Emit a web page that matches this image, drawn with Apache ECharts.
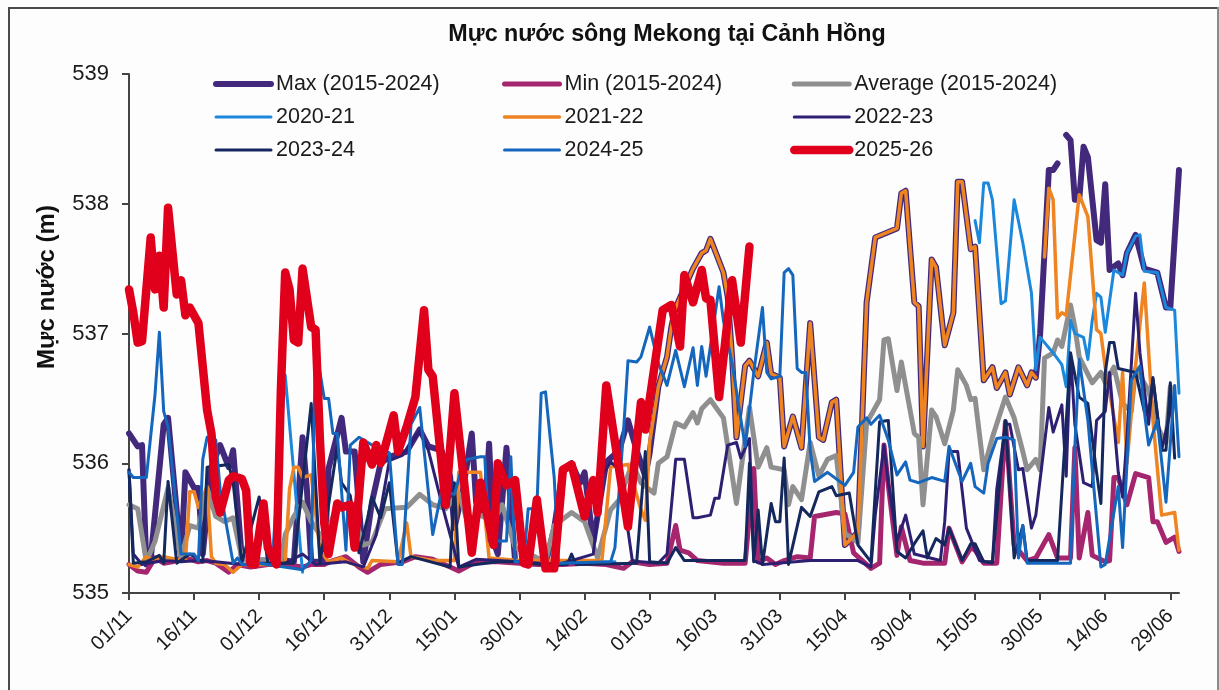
<!DOCTYPE html>
<html lang="vi">

<head>
  <meta charset="UTF-8">
  <title>Mực nước sông Mekong tại Cảnh Hồng</title>
  <style>
    html, body {
      margin: 0;
      background-color: #fdfdfe;
      overflow: hidden;
    }

    .frame {
      position: absolute;
      left: 8px;
      top: 7px;
      width: 1300px;
      height: 800px;
      border: 2px solid #4a4a4a;
    }

    .edge {
      position: absolute;
      left: 1217px;
      top: 7px;
      width: 2px;
      height: 683px;
      background-color: #8a8a8a;
    }

    #chart {
      position: absolute;
      left: 0;
      top: 0;
      width: 1219px;
      height: 690px;
    }
  </style>
</head>

<body>
  <div class="frame"></div>
  <div class="edge"></div>
  <div id="chart"></div>
  <script src="https://cdn.jsdelivr.net/npm/echarts@6/dist/echarts.min.js"></script>
  <script>
    const tickLabels = ['01/11', '16/11', '01/12', '16/12', '31/12', '15/01', '30/01', '14/02', '01/03',
      '16/03', '31/03', '15/04', '30/04', '15/05', '30/05', '14/06', '29/06']
    const dayCount = 243

    // [day since 01/11, water level in m]
    const maxLevel = [[0,536.23],[2,536.13],[3,536.14],[4,535.22],[5,535.26],[8,536.3],[9,536.35],[12,535.27],[13,535.93],[15,535.81],[16,535.81],[17,535.3],[19,535.97],[21,536.14],[23,535.97],[24,536.1],[26,535.27],[30,535.25],[36,535.25],[38,535.24],[40,536.2],[41,535.8],[42,535.24],[45,535.24],[46,535.96],[49,536.35],[50,536.09],[52,536.09],[54,535.24],[56,535.7],[58,536],[60,536.05],[64,536.09],[67,536.26],[69,536.13],[72,536.1],[74,535.9],[75,535.5],[77,535.8],[79,536.23],[80,535.7],[82,535.6],[83,536.15],[84,535.4],[85,535.3],[87,536.12],[89,535.24],[96,535.22],[98,535.5],[100,535.95],[102,536],[104,535.85],[105,535.93],[107,535.39],[110,536.01],[113,536.1],[115,536.33],[117,536.1],[119,535.9],[120,536.08],[122,536.59],[124,536.82],[125,537.05],[126,537.2],[128,537.35],[130,537.5],[132,537.62],[133,537.64],[134,537.73],[137,537.47],[138,537.28],[139,536.82],[140,536.2],[142,536.75],[143,536.79],[145,536.67],[147,536.93],[148,536.69],[150,536.66],[151,536.13],[153,536.36],[155,536.12],[157,537.08],[159,536.2],[160,536.18],[162,536.47],[163,536.49],[165,535.37],[168,535.47],[170,537.24],[172,537.74],[177,537.81],[178,538.08],[179,538.1],[181,537.24],[182,537.21],[183,536.13],[185,537.57],[186,537.51],[188,536.91],[190,537.16],[191,538.17],[192,538.17],[194,537.65],[195,537.67],[197,536.64],[199,536.74],[200,536.58],[202,536.7],[203,536.53],[205,536.74],[207,536.6],[208,536.7],[209,536.66],[210,537],[212,538.26],[213,538.26],[214,538.31],[215,null],[216,538.53],[217,538.49],[218,538.03],[219,538.03],[220,538.44],[221,538.36],[223,537.72],[224,537.7],[225,538.15],[226,537.49],[228,537.54],[229,537.45],[230,537.62],[232,537.76],[234,537.5],[237,537.47],[239,537.2],[240,537.2],[242,538.26]]
    const minLevel = [[0,535.22],[2,535.17],[4,535.16],[6,535.27],[8,535.23],[10,535.24],[12,535.27],[14,535.26],[16,535.24],[18,535.25],[20,535.23],[23,535.16],[25,535.22],[28,535.2],[32,535.22],[36,535.22],[40,535.2],[42,535.22],[45,535.22],[47,535.25],[50,535.28],[53,535.2],[55,535.16],[58,535.22],[63,535.24],[66,535.28],[70,535.26],[74,535.2],[76,535.17],[80,535.24],[85,535.24],[90,535.23],[95,535.22],[100,535.22],[105,535.23],[110,535.22],[114,535.19],[116,535.24],[120,535.22],[124,535.23],[126,535.52],[127,535.33],[129,535.31],[131,535.25],[137,535.23],[142,535.23],[144,535.96],[145,535.24],[147,535.27],[149,535.22],[151,535.25],[154,535.28],[157,535.27],[158,535.59],[163,535.62],[165,535.61],[167,535.31],[171,535.19],[173,535.23],[174,536.14],[175,535.83],[177,535.29],[178,535.51],[180,535.25],[183,535.23],[188,535.23],[189,535.5],[192,535.24],[194,535.35],[195,535.33],[197,535.23],[200,535.23],[202,536.32],[204,535.37],[207,535.25],[209,535.27],[212,535.45],[214,535.27],[217,535.27],[218,536.12],[219,535.27],[221,535.62],[222,535.29],[225,535.24],[226,535.25],[227,535.89],[228,535.89],[230,535.68],[232,535.92],[235,535.89],[236,535.55],[237,535.55],[239,535.39],[241,535.43],[242,535.32]]
    const avgLevel = [[0,535.68],[2,535.65],[4,535.24],[6,535.4],[9,535.81],[12,535.27],[14,535.52],[16,535.5],[18,535.81],[20,535.59],[22,535.55],[24,535.58],[26,535.27],[30,535.25],[35,535.25],[36,535.45],[38,535.59],[40,535.7],[42,535.55],[45,535.4],[48,535.68],[51,535.68],[54,535.37],[56,535.39],[59,535.65],[64,535.66],[67,535.76],[70,535.68],[73,535.65],[76,535.77],[78,535.55],[81,535.6],[84,535.55],[86,535.68],[89,535.35],[96,535.24],[98,535.52],[102,535.62],[105,535.55],[108,535.27],[111,535.64],[113,535.72],[116,536],[118,535.85],[121,535.77],[122,536],[124,536.05],[126,536.31],[128,536.28],[130,536.39],[131,536.31],[132,536.42],[134,536.49],[137,536.35],[140,535.69],[143,536.43],[145,535.97],[147,536.12],[148,535.97],[151,535.95],[152,535.68],[153,535.82],[155,535.72],[157,536.16],[159,535.9],[161,536.03],[163,536.06],[165,535.46],[168,535.39],[170,536.31],[173,536.49],[174,536.95],[175,536.96],[177,536.56],[178,536.78],[181,536.23],[182,536.2],[183,535.68],[185,536.41],[186,536.36],[188,536.15],[190,536.41],[191,536.72],[193,536.6],[194,536.49],[195,536.5],[197,535.95],[199,536.2],[202,536.51],[204,536.35],[206,536.09],[207,535.95],[209,536.03],[210,535.95],[211,536.81],[213,536.85],[214,536.95],[215,536.9],[217,537.22],[218,537.05],[219,536.82],[222,536.62],[224,536.7],[225,536.62],[227,536.74],[229,536.46],[231,536.4],[232,536.73],[235,536.56],[237,536.28],[239,536.16],[240,536.59]]
    const level2020 = [[33,535.25],[36,536.68],[40,535.16],[41,null],[96,null],[97,535.23],[112,535.24],[113,null],[194,null],[195,537.87],[196,537.7],[197,538.16],[198,538.16],[199,538.03],[201,537.23],[202,537.25],[204,538.03],[206,537.7],[208,537.31],[209,536.72],[210,536.97],[213,536.85],[215,536.76],[216,536.59],[217,537.1],[218,537],[220,536.97],[221,536.8],[222,537.1],[223,537.31],[224,537.28],[225,537.01],[227,537.49],[229,537.45],[230,537.62],[232,537.75],[233,537.76],[234,537.48],[237,537.47],[239,537.2],[241,537.18],[242,536.54]]
    const level2021 = [[0,535.22],[2,535.2],[4,535.28],[5,535.26],[8,535.28],[12,535.25],[13,535.25],[14,535.78],[15,535.78],[16,535.66],[18,535.82],[19,535.28],[20,535.23],[22,535.22],[24,535.16],[26,535.22],[33,535.22],[36,535.24],[37,535.8],[38,535.97],[39,535.97],[40,535.89],[42,535.91],[44,535.33],[46,535.24],[49,535.27],[51,535.23],[55,535.19],[56,535.25],[62,535.24],[64,535.54],[65,535.28],[70,535.25],[75,535.25],[76,535.93],[81,535.93],[83,535.27],[90,535.25],[109,535.25],[111,535.97],[115,535.99],[118,535.64],[119,535.56],[120,536.16],[122,536.59],[124,536.82],[125,537.05],[126,537.2],[128,537.35],[130,537.5],[132,537.62],[133,537.64],[134,537.73],[137,537.47],[138,537.28],[139,536.82],[140,536.2],[142,536.75],[143,536.79],[145,536.67],[147,536.93],[148,536.69],[150,536.66],[151,536.13],[153,536.36],[155,536.12],[157,537.08],[159,536.2],[160,536.18],[162,536.47],[163,536.49],[165,535.37],[168,535.47],[170,537.24],[172,537.74],[177,537.81],[178,538.08],[179,538.1],[181,537.24],[182,537.21],[183,536.13],[185,537.57],[186,537.51],[188,536.91],[190,537.16],[191,538.17],[192,538.17],[194,537.65],[195,537.67],[197,536.64],[199,536.74],[200,536.58],[202,536.7],[203,536.53],[205,536.74],[207,536.6],[208,536.7],[209,536.66],[210,null],[211,537.59],[212,538.12],[213,538.03],[214,537.12],[215,537.16],[216,537.14],[219,538.07],[221,537.9],[223,537.03],[224,537],[225,536.74],[228,536.16],[229,536.7],[230,536],[232,536.75],[234,537.39],[236,536.33],[238,535.6],[241,535.62],[242,535.33]]
    const level2022 = [[0,535.95],[1,535.3],[3,535.22],[8,535.25],[12,535.24],[16,535.25],[20,535.24],[26,535.22],[30,535.23],[36,535.23],[40,535.3],[43,535.22],[50,535.24],[54,535.2],[57,535.45],[60,536.02],[63,536.06],[67,536.25],[69,536.1],[72,535.7],[76,535.2],[80,535.26],[90,535.24],[99,535.22],[107,535.3],[109,535.9],[111,536.01],[113,535.95],[116,535.25],[118,535.24],[122,535.23],[124,535.3],[126,536.03],[128,536.03],[130,535.58],[131,535.58],[134,535.6],[135,535.73],[136,535.73],[138,536.14],[140,536.16],[141,536.04],[143,536.19],[144,535.25],[146,535.22],[157,535.25],[165,535.25],[168,535.25],[171,535.2],[172,535.6],[174,536.14],[175,535.85],[177,535.4],[179,535.6],[181,535.3],[187,535.25],[188,535.55],[189,536.09],[191,536.09],[193,535.5],[196,535.25],[199,535.23],[200,535.8],[202,536.3],[203,536.3],[205,535.95],[206,535.96],[208,535.5],[209,535.6],[212,536.43],[213,536.24],[215,536.45],[216,535.9],[217,536.85],[218,536.3],[220,535.85],[222,535.82],[223,536.33],[225,536.4],[226,536.7],[228,535.93],[229,535.74],[230,536.2],[232,537.31],[233,536.85],[235,536.3],[236,536.66],[238,536.1],[240,536.4],[241,536.5]]
    const level2023 = [[0,535.95],[1,535.23],[4,535.24],[7,535.29],[8,535.23],[9,535.86],[11,535.23],[14,535.3],[17,535.24],[18,535.97],[23,535.99],[24,535.85],[26,535.23],[30,535.74],[32,535.23],[38,535.23],[42,536.46],[44,535.23],[48,536.13],[49,535.85],[51,535.75],[53,535.31],[55,535.58],[56,535.74],[58,535.58],[60,535.85],[62,535.23],[65,535.28],[74,535.2],[75,535.85],[76,535.2],[80,535.22],[85,535.24],[90,535.24],[95,535.22],[101,535.22],[102,535.3],[103,535.22],[117,535.23],[119,536.09],[120,535.24],[124,535.23],[126,535.35],[128,535.25],[142,535.25],[143,536],[144,535.24],[145,535.64],[146,535.22],[148,535.69],[149,535.55],[150,535.55],[151,536.04],[152,535.22],[155,535.66],[157,535.59],[159,535.78],[162,535.82],[163,535.75],[166,535.77],[168,535.37],[171,535.24],[173,536.32],[175,536.33],[177,535.32],[179,535.27],[181,535.38],[183,535.48],[184,535.27],[186,535.42],[188,535.37],[189,535.5],[192,535.25],[194,535.38],[195,535.38],[197,535.24],[199,535.24],[202,536.33],[204,535.27],[206,535.52],[207,535.25],[214,535.25],[217,536.85],[219,536.51],[221,536.46],[223,535.93],[224,535.69],[225,536.7],[226,536.93],[227,536.93],[228,536.73],[232,536.7],[234,536.4],[235,536.4],[236,536.65],[238,536.1],[239,536.1],[240,536.62],[241,536.04]]
    const level2024 = [[0,535.93],[1,535.89],[4,535.89],[6,536.53],[7,537.01],[8,536.4],[9,536.28],[12,535.3],[15,535.3],[16,535.25],[17,536.03],[18,536.2],[20,536.18],[21,535.8],[24,535.23],[25,535.27],[26,535.22],[30,535.23],[40,535.18],[42,535.25],[43,536.91],[45,536.5],[46,536.5],[47,536.23],[48,536.23],[50,535.33],[51,536.14],[53,536.2],[56,536.14],[60,536.08],[62,535.22],[63,535.22],[65,536.3],[67,536.43],[70,535.45],[72,535.78],[75,535.76],[77,536],[78,536.03],[81,536.05],[82,536.05],[83,535.4],[87,535.4],[88,536.05],[89,535.24],[91,535.24],[92,535.65],[94,535.65],[95,536.54],[96,536.55],[98,535.89],[99,535.23],[111,535.24],[112,535.35],[114,536.26],[115,536.79],[117,536.78],[118,536.82],[120,537.05],[122,536.77],[124,536.6],[126,536.87],[128,536.59],[130,536.89],[131,536.6],[132,536.9],[133,536.67],[136,537.36],[137,537.1],[139,536.77],[142,536.13],[144,536.7],[146,537.2],[147,536.7],[148,536.65],[150,536.67],[151,537.47],[152,537.5],[153,537.45],[154,536.73],[155,536.7],[156,536.7],[157,536.1],[158,535.86],[161,535.93],[165,535.83],[167,535.93],[168,536.28],[170,536.35],[171,536.3],[173,536.37],[175,536.18],[177,535.91],[179,536.01],[180,535.87],[182,535.85],[185,535.89],[188,535.86],[189,536.13],[192,535.86],[194,536],[195,535.82],[197,535.77],[198,536],[200,536.19],[202,536.2],[204,536.18],[205,535.27],[206,535.52],[207,535.23],[217,535.23],[218,536.13],[219,536.8],[221,536.33],[224,535.2],[225,535.22],[228,535.82],[229,535.35],[231,536.64],[233,536.75],[234,536.4],[235,536.14],[237,536.33],[239,535.7],[241,536.6],[242,536.05]]
    const level2025 = [[0,537.34],[1,537.16],[2,536.93],[3,536.94],[5,537.74],[6,537.34],[7,537.6],[8,537.2],[9,537.97],[11,537.3],[12,537.41],[13,537.14],[14,537.2],[16,537.08],[18,536.41],[19,536.23],[20,535.74],[21,535.62],[23,535.87],[24,535.9],[26,535.88],[27,535.79],[28,535.23],[29,535.22],[31,535.69],[32,535.35],[34,535.22],[35,536.56],[36,537.47],[37,537.34],[38,536.95],[39,536.93],[40,537.5],[42,537.05],[43,537.03],[44,536.18],[45,535.54],[46,535.3],[48,535.69],[49,535.66],[51,535.68],[52,535.35],[54,536.16],[56,535.99],[57,536.14],[58,536],[61,536.37],[62,536.09],[64,536.28],[66,536.51],[68,537.18],[69,536.72],[70,536.67],[73,535.68],[75,536.54],[79,535.31],[81,535.85],[84,535.37],[85,536],[87,535.83],[89,535.87],[91,535.23],[92,535.22],[94,535.72],[96,535.19],[98,535.19],[100,535.95],[102,535.99],[105,535.59],[107,535.87],[108,535.62],[110,536.6],[115,535.51],[118,536.47],[119,536.26],[123,537.18],[125,537.22],[127,536.9],[128,537.45],[130,537.24],[132,537.49],[133,537.27],[134,537.26],[136,536.51],[139,537.41],[141,536.93],[143,537.67]]

    const fontName = '"Liberation Sans", Arial, sans-serif'

    // every 15th day carries a tick and a label
    const days = []
    for (let i = 0; i < dayCount; i++) {
      days.push(i % 15 === 0 ? tickLabels[i / 15] : '')
    }
    const isTick = i => i % 15 === 0

    const line = (name, data, color, width) => ({
      name,
      type: 'line',
      data,
      symbol: 'none',
      connectNulls: false,
      animation: false,
      lineStyle: { color, width, cap: 'round', join: 'round' },
      itemStyle: { color }
    })

    // itemStyle opacity 0 hides the dot ECharts puts on a line series' legend key
    const legendColumn = (left, data) => ({
      left,
      top: 73,
      padding: 0,
      orient: 'vertical',
      itemWidth: 55,
      itemHeight: 14,
      itemGap: 11,
      selectedMode: false,
      data,
      itemStyle: { opacity: 0 },
      lineStyle: { width: 'inherit', cap: 'round' },
      textStyle: { fontFamily: fontName, fontSize: 21.5, color: '#1a1a1a' }
    })

    const option = {
      backgroundColor: 'transparent',
      title: {
        text: 'Mực nước sông Mekong tại Cảnh Hồng',
        left: 662,
        top: 18,
        textAlign: 'center',
        textStyle: { fontFamily: fontName, fontSize: 23.3, fontWeight: 'bold', color: '#111' }
      },
      legend: [
        legendColumn(213, ['Max (2015-2024)', '2020-21', '2023-24']),
        legendColumn(502, ['Min (2015-2024)', '2021-22', '2024-25']),
        legendColumn(790, ['Average (2015-2024)', '2022-23', '2025-26'])
      ],
      grid: { left: 129, right: 40, top: 74, bottom: 97 },
      xAxis: {
        type: 'category',
        boundaryGap: false,
        data: days,
        axisLine: { lineStyle: { color: '#444', width: 2 } },
        axisTick: { interval: isTick, length: 7, lineStyle: { color: '#444', width: 2 } },
        axisLabel: {
          interval: isTick,
          rotate: 45,
          margin: 20,
          fontFamily: fontName,
          fontSize: 20,
          color: '#1a1a1a'
        }
      },
      yAxis: {
        type: 'value',
        min: 535,
        max: 539,
        interval: 1,
        splitLine: { show: false },
        axisLine: { show: true, lineStyle: { color: '#444', width: 2 } },
        axisTick: { show: true, length: 7, lineStyle: { color: '#444', width: 2 } },
        axisLabel: { margin: 20, fontFamily: fontName, fontSize: 22, color: '#1a1a1a' }
      },
      graphic: [{
        type: 'text',
        x: 47,
        y: 287,
        rotation: Math.PI / 2,
        style: {
          text: 'Mực nước (m)',
          fontFamily: fontName,
          fontSize: 24,
          fontWeight: 'bold',
          fill: '#111',
          textAlign: 'center',
          textVerticalAlign: 'middle'
        }
      }],
      series: [
        line('Max (2015-2024)', maxLevel, '#42297c', 6),
        line('Min (2015-2024)', minLevel, '#a5266e', 5),
        line('Average (2015-2024)', avgLevel, '#8f8f8f', 5),
        line('2020-21', level2020, '#1b88dc', 3),
        line('2021-22', level2021, '#ee8422', 3.5),
        line('2022-23', level2022, '#2e1f72', 3),
        line('2023-24', level2023, '#14285e', 3),
        line('2024-25', level2024, '#1467bd', 3),
        line('2025-26', level2025, '#e0001b', 8.5)
      ]
    }

    const myChart = echarts.init(document.getElementById('chart'))
    myChart.setOption(option)
  </script>
</body>

</html>
